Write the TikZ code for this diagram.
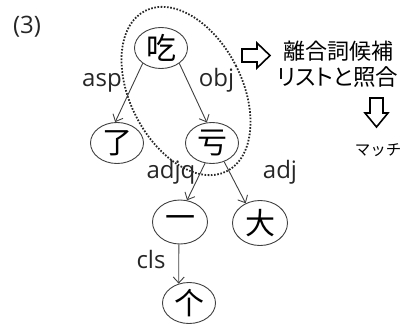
\documentclass[tikz,border=0pt]{standalone}
\usepackage{fontspec}
\setmainfont{Open Sans}
\newfontfamily\scfont{Noto Sans CJK SC}
\newfontfamily\jpfont{Noto Sans CJK JP}
\newfontfamily\jppfont[RawFeature=+palt]{Noto Sans CJK JP}
\usetikzlibrary{arrows.meta,calc,shapes.geometric}
\definecolor{edgegray}{HTML}{404040}
\tikzset{
  word/.style={ellipse, draw=edgegray, line width=0.9pt, inner sep=0pt,
    minimum width=53pt, minimum height=41pt,
    font=\scfont\fontsize{30}{30}\selectfont},
  rel/.style={font=\fontsize{24}{24}\selectfont, text=black!85, inner sep=0pt},
  dep/.style={draw=edgegray, line width=0.9pt, -{Straight Barb[length=6pt,width=11pt]}},
  blockarrow/.style={draw=black, line width=1.6pt, fill=white, line join=miter},
  dotring/.style={draw=black!85, line width=1.8pt, dash pattern=on 1.6pt off 1.6pt}
}
\begin{document}
\begin{tikzpicture}[x=1pt,y=-1pt]
\useasboundingbox (0,0) rectangle (410,325);
% dotted grouping ellipse
\coordinate (gc) at (186,91);
\draw[dotring, rotate around={27:(gc)}] (gc) ellipse [x radius=56, y radius=90];
% nodes
\node[word] (chi) at (161,48) {吃};
\node[word] (le)  at (117,143) {了};
\node[word] (kui) at (212,143) {亏};
\node[word, minimum width=55pt, minimum height=44pt] (yi)  at (180,222) {一};
\node[word, minimum width=55pt, minimum height=45pt] (da)  at (260,223) {大};
\node[word] (ge)  at (189,303) {个};
% labels
\node[rel] (num)  at (27,27) {(3)};
\node[rel] (asp)  at (102,83) {asp};
\node[rel] (obj)  at (216.5,80) {obj};
\node[rel] (adjq) at (171,172) {adjq};
\node[rel] (adj)  at (280,172) {adj};
\node[rel] (cls)  at (151,259) {cls};
% edges
\draw[dep] (chi.-140) -- (le.95);
\draw[dep] (chi.-40) -- (kui.104);
\draw[dep] (kui.-109) -- (yi.72);
\draw[dep] (kui.-57) -- (da.126);
\draw[dep] (yi.-93) -- (ge.118);
% right text
\node[inner sep=0pt, font=\jpfont\fontsize{22}{22}\selectfont] (t1) at (338,51) {離合詞候補};
\node[inner sep=0pt, font=\jppfont\fontsize{22.5}{22.5}\selectfont] (t2) at (338,77) {リストと照合};
\node[inner sep=0pt, font=\jpfont\fontsize{15.5}{15.5}\selectfont] (t3) at (378,150) {マッチ};
% block arrows
\draw[blockarrow] (242,49) -- (257,49) -- (257,43) -- (270,55.5) -- (257,68) -- (257,62) -- (242,62) -- cycle;
\draw[blockarrow] (370,98) -- (383,98) -- (383,113) -- (388,113) -- (376.5,127) -- (365,113) -- (370,113) -- cycle;
\end{tikzpicture}
\end{document}
